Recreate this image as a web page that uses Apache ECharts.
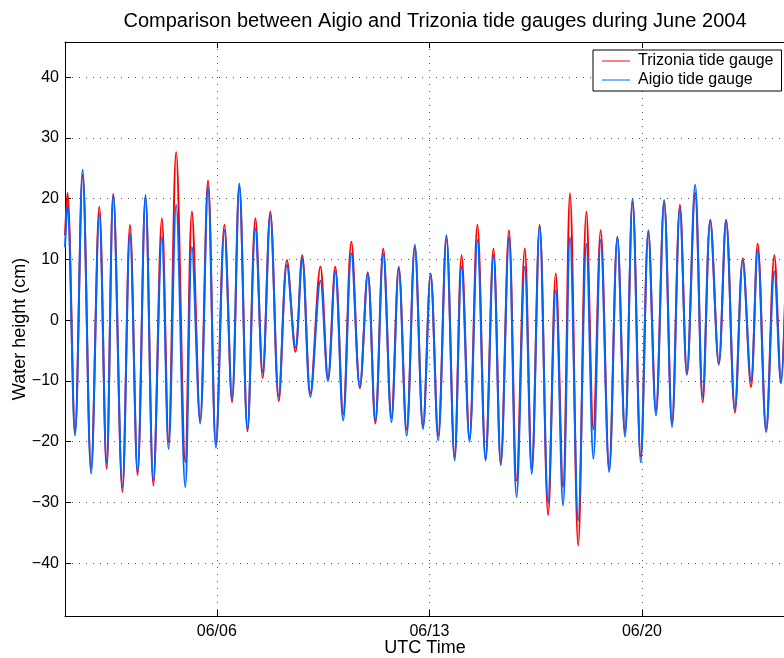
<!DOCTYPE html>
<html>
<head>
<meta charset="utf-8">
<script src="https://cdn.jsdelivr.net/npm/echarts@6/dist/echarts.min.js"></script>
<style>html,body{margin:0;padding:0;background:#fff}#c{width:784px;height:658px}</style>
</head>
<body>
<div id="c"></div>
<script>
// Time in days since 2004-06-01 00:00 UTC, at successive highs/lows
const tDays = [0.00,0.08,0.33,0.58,0.86,1.13,1.37,1.59,1.89,2.14,2.39,2.65,2.91,3.19,3.41,3.66,3.96,4.18,4.45,4.71,4.97,5.25,5.50,5.74,6.01,6.27,6.51,6.76,7.04,7.31,7.59,7.81,8.08,8.41,8.66,8.90,9.16,9.43,9.71,9.97,10.22,10.48,10.75,10.99,11.25,11.52,11.79,12.04,12.29,12.56,12.83,13.06,13.32,13.58,13.85,14.11,14.35,14.62,14.87,15.14,15.37,15.63,15.91,16.16,16.40,16.63,16.90,17.17,17.40,17.64,17.92,18.19,18.44,18.69,18.96,19.21,19.46,19.73,19.99,20.25,20.48,20.75,21.00,21.25,21.53,21.77,22.06,22.32,22.59,22.81,23.09,23.36,23.58,23.71];
// Aigio tide gauge (cm)
const aigio = [12,19,-19,24.8,-25.3,17.5,-23.5,20.6,-27.5,14.3,-25,20.6,-26.4,13.7,-21.2,19,-27.5,12.1,-17,22,-21,14.8,-13,22.5,-18,15.1,-8.5,17.3,-12.5,9.1,-4.5,10.2,-12.6,6.5,-10,8,-16.5,11,-11,7.7,-16.5,11,-16.8,8.5,-19,12.4,-17.9,7.7,-19.8,14,-23.1,8.8,-20,13.2,-23.1,10.7,-23.9,13.7,-29.1,8.8,-25.3,15.5,-30,4.9,-30.5,13.7,-33,12.6,-22.8,13.2,-25,13.7,-19.2,20,-23.4,14.8,-15.7,19.8,-17.6,18.4,-8.8,22.3,-12.5,16.5,-7.1,16.5,-14.6,9.8,-10,11.5,-18.4,8,-10.4,2];
// Trizonia tide gauge (cm)
const trizonia = [14,21,-18.5,24,-24.5,18.7,-24.5,20.8,-28.3,15.7,-25.5,20.2,-27.2,16.8,-20,27.7,-23.4,17.9,-16.5,23,-20.5,15.7,-13.5,22,-18.3,16.8,-9.5,17.9,-13.3,9.9,-5.2,10.7,-12,8.8,-9.6,8.8,-15.5,12.9,-11.2,7.9,-17,11.8,-16,8.8,-18,12,-17.5,7.5,-19,13.5,-22.5,10.7,-19.5,15.7,-22.8,11.8,-23.5,14.8,-26.4,11.8,-24.5,15.7,-32.1,7.7,-27.5,20.9,-37.1,17.9,-18,14.8,-24.5,13.7,-18.5,19.5,-22.5,14.5,-15,19.5,-17,19,-9,21,-13.5,16.5,-7.3,16.5,-15.2,10.2,-11,12.6,-18,10.7,-10,3];
// Axis ticks
const xTickDays = [5, 12, 19];
const xTickLabels = ['06/06', '06/13', '06/20'];
const yTicks = [-40, -30, -20, -10, 0, 10, 20, 30, 40];
const xRange = [0, 23.71];
const yRange = [-48.7, 45.8];

const triData = tDays.map((t, i) => [t, trizonia[i]]);
const aigData = tDays.map((t, i) => [t, aigio[i]]);
const FONT = '"Liberation Sans", Arial, Helvetica, sans-serif';

const chart = echarts.init(document.getElementById('c'), null, {renderer: 'canvas'});
const dotted = {show: true, lineStyle: {type: [1, 6], color: '#555', width: 1}};
chart.setOption({
  animation: false,
  backgroundColor: '#fff',
  title: {
    text: 'Comparison between Aigio and Trizonia tide gauges during June 2004',
    left: 435, top: 11, textAlign: 'center', padding: 0,
    textStyle: {fontFamily: FONT, fontSize: 20, fontWeight: 'normal', color: '#000'}
  },
  legend: {
    orient: 'vertical', left: 593, top: 50,
    itemWidth: 28, itemHeight: 1, itemGap: 3,
    padding: [3, 8, 3, 9],
    backgroundColor: '#fff', borderColor: '#000', borderWidth: 1, borderRadius: 0,
    textStyle: {fontFamily: FONT, fontSize: 16, color: '#000', padding: [0,0,0,3]},
    data: [{name: 'Trizonia tide gauge', icon: 'rect'}, {name: 'Aigio tide gauge', icon: 'rect'}]
  },
  grid: {left: 65, top: 42, right: -1, bottom: 42, containLabel: false, outerBoundsMode: 'none'},
  xAxis: [{
    type: 'value', min: xRange[0], max: xRange[1],
    name: 'UTC Time', nameLocation: 'middle', nameGap: 23, nameMoveOverlap: false,
    nameTextStyle: {fontFamily: FONT, fontSize: 18, color: '#000'},
    axisLine: {show: true, onZero: false, lineStyle: {color: '#000', width: 1}},
    axisTick: {show: true, inside: true, length: 6, customValues: xTickDays, lineStyle: {color: '#000'}},
    axisLabel: {customValues: xTickDays, fontFamily: FONT, fontSize: 16, color: '#000', margin: 8,
      formatter: v => xTickLabels[xTickDays.indexOf(v)] || ''},
    splitLine: dotted
  }, {
    type: 'value', min: xRange[0], max: xRange[1], position: 'top',
    axisLine: {show: true, onZero: false, lineStyle: {color: '#000', width: 1}},
    axisTick: {show: true, inside: true, length: 6, customValues: xTickDays, lineStyle: {color: '#000'}},
    axisLabel: {show: false}, splitLine: {show: false}
  }],
  yAxis: [{
    type: 'value', min: yRange[0], max: yRange[1],
    name: 'Water height (cm)', nameLocation: 'middle', nameGap: 36, nameMoveOverlap: false,
    nameTextStyle: {fontFamily: FONT, fontSize: 18, color: '#000'},
    axisLine: {show: true, onZero: false, lineStyle: {color: '#000', width: 1}},
    axisTick: {show: true, inside: true, length: 6, customValues: yTicks, lineStyle: {color: '#000'}},
    axisLabel: {customValues: yTicks, fontFamily: FONT, fontSize: 16, color: '#000', margin: 6,
      formatter: v => (v < 0 ? '\u2212' + Math.abs(v) : String(v))},
    splitLine: dotted
  }],
  series: [{
    name: 'Trizonia tide gauge', type: 'line', data: triData, smooth: 0.35,
    showSymbol: false, symbol: 'none', clip: true,
    lineStyle: {color: '#ff0000', width: 2}, itemStyle: {color: '#ff0000'}
  }, {
    name: 'Aigio tide gauge', type: 'line', data: aigData, smooth: 0.35,
    showSymbol: false, symbol: 'none', clip: true,
    lineStyle: {color: '#0066ff', width: 2}, itemStyle: {color: '#0066ff'}
  }]
});
</script>
</body>
</html>
